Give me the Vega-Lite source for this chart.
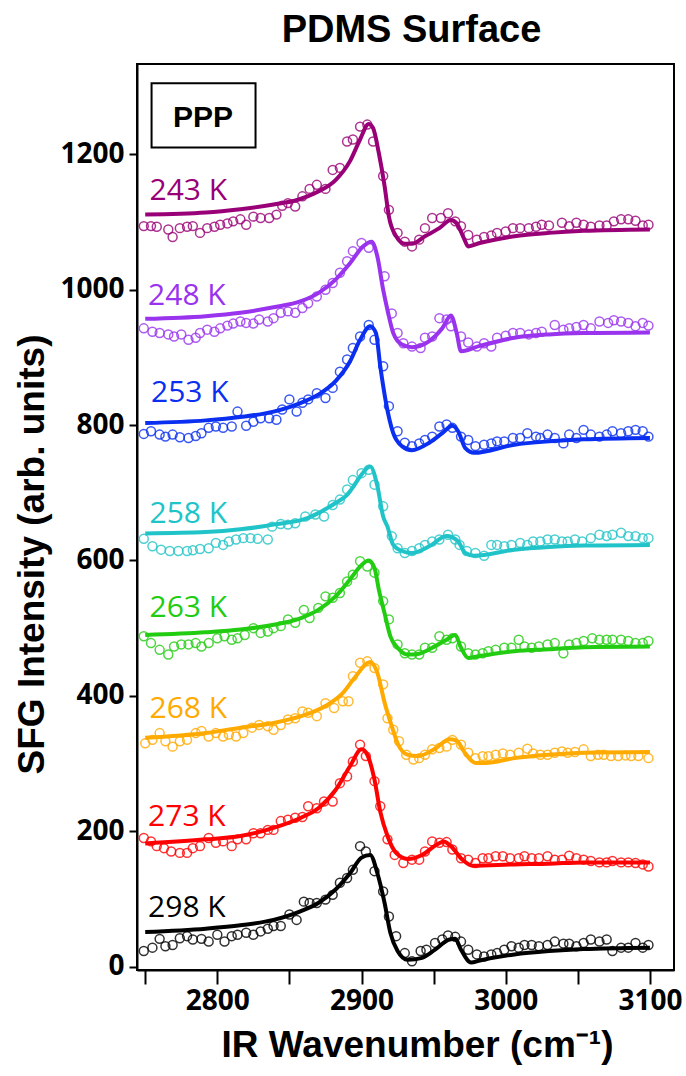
{
"$schema":"https://vega.github.io/schema/vega-lite/v6.json",
"width":537,"height":906,
"autosize":{"type":"none"},
"padding":{"left":137,"top":64,"right":12,"bottom":106},
"background":"white",
"title":{"text":"PDMS Surface","fontSize":38,"font":"Liberation Sans","fontWeight":"bold","anchor":"middle","offset":14,"dx":6,"color":"#000"},
"config":{"view":{"stroke":"#000","strokeWidth":2},"axis":{"grid":false,"domainColor":"#000","domainWidth":2,"tickColor":"#000","tickWidth":2,"labelColor":"#000","titleColor":"#000"}},
"datasets":{
"box":[{"x1":2754.4,"x2":2826.5,"y1":1210,"y2":1305}],
"ppp":[{"x":2790,"y":1241,"t":"PPP"}],
"labels":[
{"s":"243 K","x":2753,"y":1132},
{"s":"248 K","x":2752,"y":977},
{"s":"253 K","x":2754,"y":834},
{"s":"258 K","x":2753,"y":655},
{"s":"263 K","x":2753,"y":517},
{"s":"268 K","x":2753,"y":368},
{"s":"273 K","x":2752,"y":208},
{"s":"298 K","x":2752,"y":73}],
"fit":[
{"s":"243 K","x":2750,"y":1111},{"s":"243 K","x":2792,"y":1114},{"s":"243 K","x":2816,"y":1119},{"s":"243 K","x":2839,"y":1126},{"s":"243 K","x":2856,"y":1133},{"s":"243 K","x":2870,"y":1145},{"s":"243 K","x":2882,"y":1162},{"s":"243 K","x":2892,"y":1190},{"s":"243 K","x":2899,"y":1222},{"s":"243 K","x":2905,"y":1245},{"s":"243 K","x":2908,"y":1239},{"s":"243 K","x":2912,"y":1202},{"s":"243 K","x":2916,"y":1153},{"s":"243 K","x":2919,"y":1108},{"s":"243 K","x":2924,"y":1079},{"s":"243 K","x":2930,"y":1068},{"s":"243 K","x":2935,"y":1068},{"s":"243 K","x":2944,"y":1079},{"s":"243 K","x":2954,"y":1091},{"s":"243 K","x":2962,"y":1103},{"s":"243 K","x":2966,"y":1098},{"s":"243 K","x":2971,"y":1076},{"s":"243 K","x":2974,"y":1064},{"s":"243 K","x":2982,"y":1069},{"s":"243 K","x":3006,"y":1079},{"s":"243 K","x":3030,"y":1084},{"s":"243 K","x":3054,"y":1087},{"s":"243 K","x":3100,"y":1089},
{"s":"248 K","x":2750,"y":957},{"s":"248 K","x":2792,"y":961},{"s":"248 K","x":2816,"y":966},{"s":"248 K","x":2839,"y":974},{"s":"248 K","x":2858,"y":983},{"s":"248 K","x":2870,"y":995},{"s":"248 K","x":2882,"y":1015},{"s":"248 K","x":2892,"y":1039},{"s":"248 K","x":2901,"y":1064},{"s":"248 K","x":2907,"y":1071},{"s":"248 K","x":2911,"y":1049},{"s":"248 K","x":2915,"y":1000},{"s":"248 K","x":2918,"y":970},{"s":"248 K","x":2922,"y":936},{"s":"248 K","x":2928,"y":919},{"s":"248 K","x":2935,"y":915},{"s":"248 K","x":2947,"y":924},{"s":"248 K","x":2956,"y":943},{"s":"248 K","x":2962,"y":962},{"s":"248 K","x":2966,"y":936},{"s":"248 K","x":2969,"y":909},{"s":"248 K","x":2982,"y":917},{"s":"248 K","x":3006,"y":929},{"s":"248 K","x":3030,"y":934},{"s":"248 K","x":3054,"y":936},{"s":"248 K","x":3100,"y":937},
{"s":"253 K","x":2750,"y":803},{"s":"253 K","x":2792,"y":807},{"s":"253 K","x":2816,"y":812},{"s":"253 K","x":2839,"y":820},{"s":"253 K","x":2858,"y":833},{"s":"253 K","x":2870,"y":845},{"s":"253 K","x":2882,"y":865},{"s":"253 K","x":2892,"y":894},{"s":"253 K","x":2899,"y":926},{"s":"253 K","x":2906,"y":946},{"s":"253 K","x":2910,"y":936},{"s":"253 K","x":2913,"y":887},{"s":"253 K","x":2917,"y":833},{"s":"253 K","x":2922,"y":788},{"s":"253 K","x":2928,"y":769},{"s":"253 K","x":2935,"y":763},{"s":"253 K","x":2947,"y":774},{"s":"253 K","x":2956,"y":788},{"s":"253 K","x":2963,"y":799},{"s":"253 K","x":2967,"y":791},{"s":"253 K","x":2972,"y":766},{"s":"253 K","x":2978,"y":759},{"s":"253 K","x":3006,"y":771},{"s":"253 K","x":3030,"y":776},{"s":"253 K","x":3054,"y":779},{"s":"253 K","x":3100,"y":781},
{"s":"258 K","x":2750,"y":640},{"s":"258 K","x":2792,"y":642},{"s":"258 K","x":2816,"y":646},{"s":"258 K","x":2839,"y":653},{"s":"258 K","x":2863,"y":663},{"s":"258 K","x":2870,"y":670},{"s":"258 K","x":2882,"y":685},{"s":"258 K","x":2890,"y":697},{"s":"258 K","x":2894,"y":708},{"s":"258 K","x":2899,"y":724},{"s":"258 K","x":2906,"y":739},{"s":"258 K","x":2911,"y":710},{"s":"258 K","x":2915,"y":665},{"s":"258 K","x":2918,"y":650},{"s":"258 K","x":2922,"y":623},{"s":"258 K","x":2928,"y":614},{"s":"258 K","x":2935,"y":611},{"s":"258 K","x":2947,"y":621},{"s":"258 K","x":2959,"y":636},{"s":"258 K","x":2967,"y":628},{"s":"258 K","x":2972,"y":611},{"s":"258 K","x":2978,"y":607},{"s":"258 K","x":3006,"y":616},{"s":"258 K","x":3030,"y":620},{"s":"258 K","x":3054,"y":622},{"s":"258 K","x":3100,"y":623},
{"s":"263 K","x":2750,"y":490},{"s":"263 K","x":2792,"y":494},{"s":"263 K","x":2816,"y":498},{"s":"263 K","x":2839,"y":505},{"s":"263 K","x":2858,"y":515},{"s":"263 K","x":2870,"y":527},{"s":"263 K","x":2882,"y":547},{"s":"263 K","x":2892,"y":572},{"s":"263 K","x":2899,"y":591},{"s":"263 K","x":2905,"y":600},{"s":"263 K","x":2909,"y":589},{"s":"263 K","x":2912,"y":557},{"s":"263 K","x":2916,"y":522},{"s":"263 K","x":2920,"y":488},{"s":"263 K","x":2925,"y":471},{"s":"263 K","x":2932,"y":461},{"s":"263 K","x":2939,"y":462},{"s":"263 K","x":2949,"y":471},{"s":"263 K","x":2959,"y":483},{"s":"263 K","x":2965,"y":490},{"s":"263 K","x":2969,"y":471},{"s":"263 K","x":2974,"y":456},{"s":"263 K","x":2982,"y":459},{"s":"263 K","x":3006,"y":466},{"s":"263 K","x":3030,"y":469},{"s":"263 K","x":3054,"y":472},{"s":"263 K","x":3100,"y":473},
{"s":"268 K","x":2750,"y":338},{"s":"268 K","x":2792,"y":345},{"s":"268 K","x":2816,"y":353},{"s":"268 K","x":2839,"y":360},{"s":"268 K","x":2858,"y":370},{"s":"268 K","x":2875,"y":385},{"s":"268 K","x":2887,"y":404},{"s":"268 K","x":2896,"y":429},{"s":"268 K","x":2906,"y":450},{"s":"268 K","x":2911,"y":434},{"s":"268 K","x":2916,"y":390},{"s":"268 K","x":2921,"y":355},{"s":"268 K","x":2925,"y":330},{"s":"268 K","x":2932,"y":313},{"s":"268 K","x":2939,"y":311},{"s":"268 K","x":2951,"y":322},{"s":"268 K","x":2961,"y":336},{"s":"268 K","x":2966,"y":334},{"s":"268 K","x":2971,"y":318},{"s":"268 K","x":2979,"y":301},{"s":"268 K","x":2986,"y":301},{"s":"268 K","x":3006,"y":308},{"s":"268 K","x":3030,"y":313},{"s":"268 K","x":3054,"y":316},{"s":"268 K","x":3100,"y":317},
{"s":"273 K","x":2750,"y":182},{"s":"273 K","x":2792,"y":188},{"s":"273 K","x":2816,"y":193},{"s":"273 K","x":2839,"y":205},{"s":"273 K","x":2858,"y":220},{"s":"273 K","x":2870,"y":234},{"s":"273 K","x":2882,"y":261},{"s":"273 K","x":2892,"y":296},{"s":"273 K","x":2900,"y":321},{"s":"273 K","x":2904,"y":313},{"s":"273 K","x":2909,"y":276},{"s":"273 K","x":2913,"y":229},{"s":"273 K","x":2918,"y":193},{"s":"273 K","x":2924,"y":168},{"s":"273 K","x":2932,"y":159},{"s":"273 K","x":2942,"y":165},{"s":"273 K","x":2952,"y":180},{"s":"273 K","x":2957,"y":185},{"s":"273 K","x":2962,"y":178},{"s":"273 K","x":2970,"y":158},{"s":"273 K","x":2977,"y":149},{"s":"273 K","x":3006,"y":151},{"s":"273 K","x":3030,"y":152},{"s":"273 K","x":3054,"y":154},{"s":"273 K","x":3100,"y":154},
{"s":"298 K","x":2750,"y":51},{"s":"298 K","x":2792,"y":56},{"s":"298 K","x":2816,"y":61},{"s":"298 K","x":2839,"y":69},{"s":"298 K","x":2858,"y":82},{"s":"298 K","x":2870,"y":94},{"s":"298 K","x":2882,"y":114},{"s":"298 K","x":2892,"y":138},{"s":"298 K","x":2900,"y":161},{"s":"298 K","x":2906,"y":165},{"s":"298 K","x":2911,"y":138},{"s":"298 K","x":2916,"y":94},{"s":"298 K","x":2920,"y":50},{"s":"298 K","x":2925,"y":23},{"s":"298 K","x":2932,"y":10},{"s":"298 K","x":2942,"y":13},{"s":"298 K","x":2951,"y":25},{"s":"298 K","x":2961,"y":40},{"s":"298 K","x":2965,"y":41},{"s":"298 K","x":2969,"y":25},{"s":"298 K","x":2976,"y":6},{"s":"298 K","x":2982,"y":9},{"s":"298 K","x":3006,"y":18},{"s":"298 K","x":3030,"y":23},{"s":"298 K","x":3054,"y":26},{"s":"298 K","x":3100,"y":28}
],
"pts":[
{"s":"243 K","x":2749,"y":1094},{"s":"243 K","x":2754,"y":1094},{"s":"243 K","x":2758,"y":1093},{"s":"243 K","x":2766,"y":1089},{"s":"243 K","x":2769,"y":1078},{"s":"243 K","x":2774,"y":1091},{"s":"243 K","x":2779,"y":1093},{"s":"243 K","x":2783,"y":1094},{"s":"243 K","x":2788,"y":1084},{"s":"243 K","x":2793,"y":1091},{"s":"243 K","x":2798,"y":1093},{"s":"243 K","x":2802,"y":1096},{"s":"243 K","x":2807,"y":1098},{"s":"243 K","x":2811,"y":1101},{"s":"243 K","x":2816,"y":1104},{"s":"243 K","x":2820,"y":1096},{"s":"243 K","x":2825,"y":1108},{"s":"243 K","x":2830,"y":1106},{"s":"243 K","x":2836,"y":1106},{"s":"243 K","x":2841,"y":1111},{"s":"243 K","x":2845,"y":1124},{"s":"243 K","x":2849,"y":1128},{"s":"243 K","x":2854,"y":1123},{"s":"243 K","x":2859,"y":1138},{"s":"243 K","x":2864,"y":1149},{"s":"243 K","x":2869,"y":1155},{"s":"243 K","x":2875,"y":1149},{"s":"243 K","x":2880,"y":1177},{"s":"243 K","x":2885,"y":1180},{"s":"243 K","x":2890,"y":1219},{"s":"243 K","x":2894,"y":1222},{"s":"243 K","x":2899,"y":1241},{"s":"243 K","x":2904,"y":1244},{"s":"243 K","x":2908,"y":1219},{"s":"243 K","x":2915,"y":1168},{"s":"243 K","x":2919,"y":1118},{"s":"243 K","x":2925,"y":1084},{"s":"243 K","x":2930,"y":1071},{"s":"243 K","x":2935,"y":1064},{"s":"243 K","x":2940,"y":1074},{"s":"243 K","x":2944,"y":1091},{"s":"243 K","x":2949,"y":1106},{"s":"243 K","x":2955,"y":1106},{"s":"243 K","x":2960,"y":1113},{"s":"243 K","x":2965,"y":1101},{"s":"243 K","x":2969,"y":1094},{"s":"243 K","x":2974,"y":1081},{"s":"243 K","x":2980,"y":1074},{"s":"243 K","x":2985,"y":1078},{"s":"243 K","x":2990,"y":1080},{"s":"243 K","x":2994,"y":1084},{"s":"243 K","x":3000,"y":1086},{"s":"243 K","x":3005,"y":1091},{"s":"243 K","x":3010,"y":1091},{"s":"243 K","x":3016,"y":1091},{"s":"243 K","x":3021,"y":1093},{"s":"243 K","x":3025,"y":1096},{"s":"243 K","x":3030,"y":1095},{"s":"243 K","x":3039,"y":1099},{"s":"243 K","x":3044,"y":1094},{"s":"243 K","x":3049,"y":1099},{"s":"243 K","x":3054,"y":1096},{"s":"243 K","x":3059,"y":1093},{"s":"243 K","x":3065,"y":1095},{"s":"243 K","x":3070,"y":1095},{"s":"243 K","x":3075,"y":1101},{"s":"243 K","x":3080,"y":1104},{"s":"243 K","x":3085,"y":1104},{"s":"243 K","x":3090,"y":1102},{"s":"243 K","x":3095,"y":1095},{"s":"243 K","x":3099,"y":1096},
{"s":"248 K","x":2749,"y":943},{"s":"248 K","x":2755,"y":938},{"s":"248 K","x":2760,"y":936},{"s":"248 K","x":2766,"y":934},{"s":"248 K","x":2770,"y":931},{"s":"248 K","x":2775,"y":934},{"s":"248 K","x":2780,"y":926},{"s":"248 K","x":2785,"y":929},{"s":"248 K","x":2788,"y":936},{"s":"248 K","x":2793,"y":941},{"s":"248 K","x":2798,"y":938},{"s":"248 K","x":2802,"y":943},{"s":"248 K","x":2807,"y":947},{"s":"248 K","x":2811,"y":950},{"s":"248 K","x":2816,"y":953},{"s":"248 K","x":2820,"y":951},{"s":"248 K","x":2825,"y":950},{"s":"248 K","x":2829,"y":956},{"s":"248 K","x":2835,"y":953},{"s":"248 K","x":2839,"y":958},{"s":"248 K","x":2844,"y":966},{"s":"248 K","x":2849,"y":968},{"s":"248 K","x":2854,"y":966},{"s":"248 K","x":2859,"y":973},{"s":"248 K","x":2863,"y":980},{"s":"248 K","x":2869,"y":990},{"s":"248 K","x":2875,"y":1000},{"s":"248 K","x":2880,"y":1010},{"s":"248 K","x":2885,"y":1025},{"s":"248 K","x":2890,"y":1042},{"s":"248 K","x":2894,"y":1057},{"s":"248 K","x":2900,"y":1069},{"s":"248 K","x":2905,"y":1062},{"s":"248 K","x":2916,"y":1020},{"s":"248 K","x":2921,"y":965},{"s":"248 K","x":2925,"y":936},{"s":"248 K","x":2929,"y":921},{"s":"248 K","x":2935,"y":916},{"s":"248 K","x":2941,"y":914},{"s":"248 K","x":2944,"y":929},{"s":"248 K","x":2949,"y":931},{"s":"248 K","x":2954,"y":958},{"s":"248 K","x":2959,"y":956},{"s":"248 K","x":2962,"y":946},{"s":"248 K","x":2969,"y":931},{"s":"248 K","x":2974,"y":922},{"s":"248 K","x":2980,"y":916},{"s":"248 K","x":2985,"y":921},{"s":"248 K","x":2990,"y":916},{"s":"248 K","x":2994,"y":929},{"s":"248 K","x":3000,"y":932},{"s":"248 K","x":3005,"y":936},{"s":"248 K","x":3010,"y":936},{"s":"248 K","x":3016,"y":934},{"s":"248 K","x":3021,"y":936},{"s":"248 K","x":3025,"y":938},{"s":"248 K","x":3034,"y":948},{"s":"248 K","x":3040,"y":941},{"s":"248 K","x":3044,"y":943},{"s":"248 K","x":3049,"y":945},{"s":"248 K","x":3054,"y":948},{"s":"248 K","x":3059,"y":943},{"s":"248 K","x":3065,"y":953},{"s":"248 K","x":3071,"y":951},{"s":"248 K","x":3075,"y":955},{"s":"248 K","x":3080,"y":953},{"s":"248 K","x":3085,"y":951},{"s":"248 K","x":3090,"y":946},{"s":"248 K","x":3095,"y":951},{"s":"248 K","x":3099,"y":947},
{"s":"253 K","x":2749,"y":787},{"s":"253 K","x":2754,"y":791},{"s":"253 K","x":2760,"y":786},{"s":"253 K","x":2764,"y":783},{"s":"253 K","x":2769,"y":786},{"s":"253 K","x":2774,"y":782},{"s":"253 K","x":2780,"y":781},{"s":"253 K","x":2785,"y":784},{"s":"253 K","x":2789,"y":788},{"s":"253 K","x":2794,"y":796},{"s":"253 K","x":2799,"y":798},{"s":"253 K","x":2804,"y":796},{"s":"253 K","x":2810,"y":798},{"s":"253 K","x":2814,"y":820},{"s":"253 K","x":2820,"y":799},{"s":"253 K","x":2825,"y":805},{"s":"253 K","x":2830,"y":810},{"s":"253 K","x":2836,"y":810},{"s":"253 K","x":2841,"y":808},{"s":"253 K","x":2845,"y":823},{"s":"253 K","x":2850,"y":838},{"s":"253 K","x":2855,"y":820},{"s":"253 K","x":2859,"y":833},{"s":"253 K","x":2863,"y":838},{"s":"253 K","x":2869,"y":847},{"s":"253 K","x":2875,"y":840},{"s":"253 K","x":2880,"y":855},{"s":"253 K","x":2885,"y":879},{"s":"253 K","x":2890,"y":897},{"s":"253 K","x":2894,"y":914},{"s":"253 K","x":2899,"y":931},{"s":"253 K","x":2905,"y":948},{"s":"253 K","x":2909,"y":926},{"s":"253 K","x":2915,"y":887},{"s":"253 K","x":2919,"y":828},{"s":"253 K","x":2925,"y":791},{"s":"253 K","x":2930,"y":774},{"s":"253 K","x":2935,"y":769},{"s":"253 K","x":2940,"y":773},{"s":"253 K","x":2944,"y":778},{"s":"253 K","x":2949,"y":783},{"s":"253 K","x":2954,"y":798},{"s":"253 K","x":2959,"y":801},{"s":"253 K","x":2963,"y":796},{"s":"253 K","x":2969,"y":783},{"s":"253 K","x":2974,"y":778},{"s":"253 K","x":2979,"y":769},{"s":"253 K","x":2985,"y":771},{"s":"253 K","x":2990,"y":773},{"s":"253 K","x":2994,"y":776},{"s":"253 K","x":2999,"y":776},{"s":"253 K","x":3005,"y":781},{"s":"253 K","x":3010,"y":781},{"s":"253 K","x":3015,"y":788},{"s":"253 K","x":3021,"y":783},{"s":"253 K","x":3024,"y":781},{"s":"253 K","x":3029,"y":786},{"s":"253 K","x":3034,"y":781},{"s":"253 K","x":3040,"y":773},{"s":"253 K","x":3044,"y":786},{"s":"253 K","x":3049,"y":781},{"s":"253 K","x":3054,"y":793},{"s":"253 K","x":3059,"y":786},{"s":"253 K","x":3065,"y":783},{"s":"253 K","x":3070,"y":786},{"s":"253 K","x":3074,"y":791},{"s":"253 K","x":3080,"y":788},{"s":"253 K","x":3085,"y":791},{"s":"253 K","x":3090,"y":793},{"s":"253 K","x":3095,"y":791},{"s":"253 K","x":3099,"y":783},
{"s":"258 K","x":2749,"y":632},{"s":"258 K","x":2755,"y":621},{"s":"258 K","x":2761,"y":616},{"s":"258 K","x":2767,"y":614},{"s":"258 K","x":2773,"y":614},{"s":"258 K","x":2779,"y":614},{"s":"258 K","x":2783,"y":615},{"s":"258 K","x":2788,"y":617},{"s":"258 K","x":2794,"y":618},{"s":"258 K","x":2799,"y":626},{"s":"258 K","x":2804,"y":623},{"s":"258 K","x":2808,"y":628},{"s":"258 K","x":2813,"y":631},{"s":"258 K","x":2818,"y":633},{"s":"258 K","x":2823,"y":633},{"s":"258 K","x":2828,"y":632},{"s":"258 K","x":2835,"y":631},{"s":"258 K","x":2838,"y":650},{"s":"258 K","x":2844,"y":654},{"s":"258 K","x":2849,"y":653},{"s":"258 K","x":2854,"y":655},{"s":"258 K","x":2861,"y":665},{"s":"258 K","x":2868,"y":668},{"s":"258 K","x":2874,"y":665},{"s":"258 K","x":2880,"y":682},{"s":"258 K","x":2885,"y":690},{"s":"258 K","x":2890,"y":705},{"s":"258 K","x":2894,"y":719},{"s":"258 K","x":2900,"y":729},{"s":"258 K","x":2905,"y":734},{"s":"258 K","x":2909,"y":712},{"s":"258 K","x":2915,"y":680},{"s":"258 K","x":2921,"y":636},{"s":"258 K","x":2925,"y":618},{"s":"258 K","x":2930,"y":611},{"s":"258 K","x":2935,"y":614},{"s":"258 K","x":2940,"y":618},{"s":"258 K","x":2944,"y":623},{"s":"258 K","x":2949,"y":628},{"s":"258 K","x":2954,"y":631},{"s":"258 K","x":2960,"y":638},{"s":"258 K","x":2965,"y":631},{"s":"258 K","x":2968,"y":623},{"s":"258 K","x":2973,"y":614},{"s":"258 K","x":2979,"y":611},{"s":"258 K","x":2985,"y":607},{"s":"258 K","x":2990,"y":623},{"s":"258 K","x":2994,"y":623},{"s":"258 K","x":2999,"y":621},{"s":"258 K","x":3004,"y":623},{"s":"258 K","x":3010,"y":626},{"s":"258 K","x":3015,"y":623},{"s":"258 K","x":3019,"y":628},{"s":"258 K","x":3024,"y":628},{"s":"258 K","x":3029,"y":631},{"s":"258 K","x":3034,"y":631},{"s":"258 K","x":3039,"y":628},{"s":"258 K","x":3043,"y":628},{"s":"258 K","x":3048,"y":631},{"s":"258 K","x":3053,"y":628},{"s":"258 K","x":3059,"y":633},{"s":"258 K","x":3065,"y":638},{"s":"258 K","x":3070,"y":636},{"s":"258 K","x":3074,"y":638},{"s":"258 K","x":3080,"y":641},{"s":"258 K","x":3085,"y":636},{"s":"258 K","x":3090,"y":636},{"s":"258 K","x":3095,"y":633},{"s":"258 K","x":3099,"y":633},
{"s":"263 K","x":2749,"y":488},{"s":"263 K","x":2754,"y":478},{"s":"263 K","x":2760,"y":468},{"s":"263 K","x":2766,"y":461},{"s":"263 K","x":2770,"y":473},{"s":"263 K","x":2775,"y":476},{"s":"263 K","x":2780,"y":476},{"s":"263 K","x":2785,"y":478},{"s":"263 K","x":2789,"y":473},{"s":"263 K","x":2794,"y":478},{"s":"263 K","x":2800,"y":485},{"s":"263 K","x":2805,"y":488},{"s":"263 K","x":2810,"y":483},{"s":"263 K","x":2814,"y":485},{"s":"263 K","x":2819,"y":490},{"s":"263 K","x":2825,"y":500},{"s":"263 K","x":2830,"y":493},{"s":"263 K","x":2835,"y":495},{"s":"263 K","x":2839,"y":500},{"s":"263 K","x":2844,"y":503},{"s":"263 K","x":2849,"y":513},{"s":"263 K","x":2854,"y":508},{"s":"263 K","x":2860,"y":527},{"s":"263 K","x":2864,"y":515},{"s":"263 K","x":2870,"y":530},{"s":"263 K","x":2875,"y":547},{"s":"263 K","x":2880,"y":545},{"s":"263 K","x":2885,"y":552},{"s":"263 K","x":2890,"y":569},{"s":"263 K","x":2894,"y":579},{"s":"263 K","x":2899,"y":599},{"s":"263 K","x":2904,"y":591},{"s":"263 K","x":2909,"y":582},{"s":"263 K","x":2915,"y":540},{"s":"263 K","x":2919,"y":513},{"s":"263 K","x":2925,"y":476},{"s":"263 K","x":2930,"y":463},{"s":"263 K","x":2935,"y":461},{"s":"263 K","x":2940,"y":461},{"s":"263 K","x":2944,"y":471},{"s":"263 K","x":2949,"y":471},{"s":"263 K","x":2954,"y":488},{"s":"263 K","x":2959,"y":483},{"s":"263 K","x":2963,"y":485},{"s":"263 K","x":2969,"y":473},{"s":"263 K","x":2974,"y":463},{"s":"263 K","x":2979,"y":461},{"s":"263 K","x":2984,"y":463},{"s":"263 K","x":2988,"y":466},{"s":"263 K","x":2993,"y":468},{"s":"263 K","x":2999,"y":471},{"s":"263 K","x":3004,"y":471},{"s":"263 K","x":3009,"y":483},{"s":"263 K","x":3013,"y":473},{"s":"263 K","x":3018,"y":471},{"s":"263 K","x":3023,"y":473},{"s":"263 K","x":3029,"y":476},{"s":"263 K","x":3034,"y":478},{"s":"263 K","x":3040,"y":463},{"s":"263 K","x":3044,"y":476},{"s":"263 K","x":3049,"y":478},{"s":"263 K","x":3054,"y":481},{"s":"263 K","x":3060,"y":485},{"s":"263 K","x":3065,"y":483},{"s":"263 K","x":3070,"y":483},{"s":"263 K","x":3074,"y":483},{"s":"263 K","x":3080,"y":483},{"s":"263 K","x":3085,"y":481},{"s":"263 K","x":3090,"y":478},{"s":"263 K","x":3095,"y":478},{"s":"263 K","x":3099,"y":481},
{"s":"268 K","x":2750,"y":330},{"s":"268 K","x":2755,"y":335},{"s":"268 K","x":2760,"y":345},{"s":"268 K","x":2764,"y":333},{"s":"268 K","x":2769,"y":325},{"s":"268 K","x":2774,"y":333},{"s":"268 K","x":2779,"y":335},{"s":"268 K","x":2785,"y":345},{"s":"268 K","x":2789,"y":348},{"s":"268 K","x":2794,"y":340},{"s":"268 K","x":2799,"y":345},{"s":"268 K","x":2804,"y":340},{"s":"268 K","x":2808,"y":343},{"s":"268 K","x":2813,"y":340},{"s":"268 K","x":2818,"y":345},{"s":"268 K","x":2824,"y":353},{"s":"268 K","x":2829,"y":357},{"s":"268 K","x":2835,"y":355},{"s":"268 K","x":2839,"y":350},{"s":"268 K","x":2844,"y":357},{"s":"268 K","x":2849,"y":365},{"s":"268 K","x":2854,"y":367},{"s":"268 K","x":2859,"y":377},{"s":"268 K","x":2863,"y":375},{"s":"268 K","x":2869,"y":370},{"s":"268 K","x":2875,"y":389},{"s":"268 K","x":2881,"y":382},{"s":"268 K","x":2887,"y":392},{"s":"268 K","x":2891,"y":392},{"s":"268 K","x":2894,"y":429},{"s":"268 K","x":2899,"y":449},{"s":"268 K","x":2904,"y":451},{"s":"268 K","x":2909,"y":441},{"s":"268 K","x":2915,"y":417},{"s":"268 K","x":2918,"y":367},{"s":"268 K","x":2922,"y":350},{"s":"268 K","x":2926,"y":333},{"s":"268 K","x":2931,"y":313},{"s":"268 K","x":2936,"y":306},{"s":"268 K","x":2940,"y":308},{"s":"268 K","x":2944,"y":313},{"s":"268 K","x":2949,"y":321},{"s":"268 K","x":2954,"y":323},{"s":"268 K","x":2959,"y":325},{"s":"268 K","x":2963,"y":335},{"s":"268 K","x":2969,"y":328},{"s":"268 K","x":2974,"y":316},{"s":"268 K","x":2979,"y":308},{"s":"268 K","x":2984,"y":311},{"s":"268 K","x":2988,"y":311},{"s":"268 K","x":2993,"y":313},{"s":"268 K","x":2998,"y":315},{"s":"268 K","x":3003,"y":313},{"s":"268 K","x":3009,"y":316},{"s":"268 K","x":3015,"y":322},{"s":"268 K","x":3019,"y":315},{"s":"268 K","x":3024,"y":313},{"s":"268 K","x":3029,"y":313},{"s":"268 K","x":3034,"y":316},{"s":"268 K","x":3039,"y":318},{"s":"268 K","x":3043,"y":316},{"s":"268 K","x":3048,"y":317},{"s":"268 K","x":3054,"y":321},{"s":"268 K","x":3059,"y":311},{"s":"268 K","x":3064,"y":313},{"s":"268 K","x":3068,"y":313},{"s":"268 K","x":3073,"y":311},{"s":"268 K","x":3078,"y":311},{"s":"268 K","x":3083,"y":312},{"s":"268 K","x":3087,"y":311},{"s":"268 K","x":3092,"y":311},{"s":"268 K","x":3099,"y":308},
{"s":"273 K","x":2749,"y":190},{"s":"273 K","x":2754,"y":185},{"s":"273 K","x":2758,"y":178},{"s":"273 K","x":2763,"y":175},{"s":"273 K","x":2768,"y":170},{"s":"273 K","x":2774,"y":168},{"s":"273 K","x":2779,"y":168},{"s":"273 K","x":2783,"y":175},{"s":"273 K","x":2788,"y":178},{"s":"273 K","x":2794,"y":190},{"s":"273 K","x":2799,"y":183},{"s":"273 K","x":2804,"y":185},{"s":"273 K","x":2810,"y":178},{"s":"273 K","x":2814,"y":188},{"s":"273 K","x":2820,"y":188},{"s":"273 K","x":2825,"y":197},{"s":"273 K","x":2830,"y":197},{"s":"273 K","x":2835,"y":202},{"s":"273 K","x":2839,"y":202},{"s":"273 K","x":2844,"y":215},{"s":"273 K","x":2849,"y":217},{"s":"273 K","x":2854,"y":220},{"s":"273 K","x":2859,"y":221},{"s":"273 K","x":2863,"y":237},{"s":"273 K","x":2869,"y":234},{"s":"273 K","x":2874,"y":244},{"s":"273 K","x":2880,"y":244},{"s":"273 K","x":2885,"y":271},{"s":"273 K","x":2890,"y":281},{"s":"273 K","x":2894,"y":303},{"s":"273 K","x":2899,"y":328},{"s":"273 K","x":2903,"y":311},{"s":"273 K","x":2909,"y":274},{"s":"273 K","x":2913,"y":237},{"s":"273 K","x":2918,"y":188},{"s":"273 K","x":2923,"y":165},{"s":"273 K","x":2929,"y":153},{"s":"273 K","x":2935,"y":158},{"s":"273 K","x":2940,"y":158},{"s":"273 K","x":2944,"y":170},{"s":"273 K","x":2949,"y":185},{"s":"273 K","x":2954,"y":183},{"s":"273 K","x":2959,"y":184},{"s":"273 K","x":2963,"y":173},{"s":"273 K","x":2969,"y":160},{"s":"273 K","x":2974,"y":158},{"s":"273 K","x":2979,"y":153},{"s":"273 K","x":2984,"y":160},{"s":"273 K","x":2988,"y":160},{"s":"273 K","x":2993,"y":163},{"s":"273 K","x":2998,"y":163},{"s":"273 K","x":3003,"y":160},{"s":"273 K","x":3009,"y":160},{"s":"273 K","x":3013,"y":163},{"s":"273 K","x":3018,"y":160},{"s":"273 K","x":3023,"y":160},{"s":"273 K","x":3029,"y":163},{"s":"273 K","x":3034,"y":158},{"s":"273 K","x":3039,"y":158},{"s":"273 K","x":3044,"y":164},{"s":"273 K","x":3049,"y":160},{"s":"273 K","x":3054,"y":158},{"s":"273 K","x":3059,"y":156},{"s":"273 K","x":3065,"y":154},{"s":"273 K","x":3070,"y":154},{"s":"273 K","x":3074,"y":156},{"s":"273 K","x":3080,"y":154},{"s":"273 K","x":3085,"y":154},{"s":"273 K","x":3090,"y":153},{"s":"273 K","x":3095,"y":151},{"s":"273 K","x":3099,"y":148},
{"s":"298 K","x":2749,"y":23},{"s":"298 K","x":2755,"y":28},{"s":"298 K","x":2760,"y":41},{"s":"298 K","x":2764,"y":30},{"s":"298 K","x":2769,"y":32},{"s":"298 K","x":2774,"y":42},{"s":"298 K","x":2779,"y":45},{"s":"298 K","x":2783,"y":40},{"s":"298 K","x":2789,"y":41},{"s":"298 K","x":2794,"y":37},{"s":"298 K","x":2800,"y":47},{"s":"298 K","x":2805,"y":37},{"s":"298 K","x":2810,"y":45},{"s":"298 K","x":2814,"y":47},{"s":"298 K","x":2820,"y":50},{"s":"298 K","x":2825,"y":47},{"s":"298 K","x":2830,"y":52},{"s":"298 K","x":2835,"y":56},{"s":"298 K","x":2839,"y":60},{"s":"298 K","x":2844,"y":60},{"s":"298 K","x":2850,"y":77},{"s":"298 K","x":2855,"y":69},{"s":"298 K","x":2860,"y":96},{"s":"298 K","x":2864,"y":94},{"s":"298 K","x":2869,"y":94},{"s":"298 K","x":2875,"y":99},{"s":"298 K","x":2880,"y":106},{"s":"298 K","x":2885,"y":124},{"s":"298 K","x":2890,"y":131},{"s":"298 K","x":2894,"y":143},{"s":"298 K","x":2899,"y":178},{"s":"298 K","x":2903,"y":170},{"s":"298 K","x":2909,"y":141},{"s":"298 K","x":2915,"y":111},{"s":"298 K","x":2919,"y":74},{"s":"298 K","x":2924,"y":45},{"s":"298 K","x":2930,"y":20},{"s":"298 K","x":2935,"y":8},{"s":"298 K","x":2941,"y":23},{"s":"298 K","x":2945,"y":25},{"s":"298 K","x":2951,"y":35},{"s":"298 K","x":2956,"y":40},{"s":"298 K","x":2960,"y":46},{"s":"298 K","x":2965,"y":44},{"s":"298 K","x":2969,"y":37},{"s":"298 K","x":2974,"y":25},{"s":"298 K","x":2980,"y":18},{"s":"298 K","x":2985,"y":15},{"s":"298 K","x":2990,"y":18},{"s":"298 K","x":2994,"y":20},{"s":"298 K","x":2999,"y":25},{"s":"298 K","x":3004,"y":30},{"s":"298 K","x":3009,"y":28},{"s":"298 K","x":3013,"y":32},{"s":"298 K","x":3018,"y":32},{"s":"298 K","x":3023,"y":30},{"s":"298 K","x":3029,"y":32},{"s":"298 K","x":3034,"y":37},{"s":"298 K","x":3040,"y":34},{"s":"298 K","x":3044,"y":34},{"s":"298 K","x":3049,"y":30},{"s":"298 K","x":3054,"y":35},{"s":"298 K","x":3059,"y":40},{"s":"298 K","x":3065,"y":37},{"s":"298 K","x":3070,"y":40},{"s":"298 K","x":3074,"y":23},{"s":"298 K","x":3080,"y":28},{"s":"298 K","x":3085,"y":28},{"s":"298 K","x":3090,"y":35},{"s":"298 K","x":3095,"y":28},{"s":"298 K","x":3099,"y":32}
]
},
"encoding":{
"x":{"field":"x","type":"quantitative","scale":{"domain":[2744.3,3116.7],"nice":false,"zero":false},
 "axis":{"values":[2750,2800,2850,2900,2950,3000,3050,3100],"format":"d","labelExpr":"datum.value % 100 === 0 ? datum.label : ''","tickSize":14,"labelPadding":3,"labelFont":"Open Sans","labelFontWeight":"bold","labelFontSize":28,"labelFlush":false,"labelOverlap":false,
 "title":"IR Wavenumber (cm⁻¹)","titleFont":"Liberation Sans","titleFontWeight":"bold","titleFontSize":37,"titlePadding":12,"titleX":280}},
"y":{"field":"y","type":"quantitative","scale":{"domain":[-5,1333.5],"nice":false,"zero":false},
 "axis":{"values":[0,200,400,600,800,1000,1200],"format":"d","tickSize":8,"labelPadding":5,"labelFont":"Open Sans","labelFontWeight":"bold","labelFontSize":28,"labelFlush":false,"labelOverlap":false,
 "title":"SFG Intensity (arb. units)","titleFont":"Liberation Sans","titleFontWeight":"bold","titleFontSize":37,"titlePadding":8,"titleY":490}}
},
"layer":[
{"data":{"name":"box"},"mark":{"type":"rect","fill":null,"stroke":"#000","strokeWidth":2},
 "encoding":{"x":{"field":"x1","type":"quantitative"},"x2":{"field":"x2"},"y":{"field":"y1","type":"quantitative"},"y2":{"field":"y2"}}},
{"data":{"name":"ppp"},"mark":{"type":"text","font":"Liberation Sans","fontWeight":"bold","fontSize":30,"align":"center","baseline":"alphabetic","color":"#000"},
 "encoding":{"text":{"field":"t"}}},
{"data":{"name":"pts"},"mark":{"type":"point","shape":"circle","filled":false,"size":80,"strokeWidth":1.5,"opacity":0.8},
 "encoding":{"color":{"field":"s","type":"nominal","legend":null,"scale":{"domain":["243 K","248 K","253 K","258 K","263 K","268 K","273 K","298 K"],"range":["#990077","#9933ee","#0a2ff0","#20c4c8","#22cc11","#ffaa00","#ff0000","#000000"]}}}},
{"data":{"name":"fit"},"mark":{"type":"line","strokeWidth":4,"interpolate":"monotone"},
 "encoding":{"color":{"field":"s","type":"nominal","legend":null},"detail":{"field":"s"}}},
{"data":{"name":"labels"},"mark":{"type":"text","font":"Open Sans","fontSize":30,"align":"left","baseline":"alphabetic"},
 "encoding":{"text":{"field":"s"},"color":{"field":"s","type":"nominal","legend":null}}}
]
}
